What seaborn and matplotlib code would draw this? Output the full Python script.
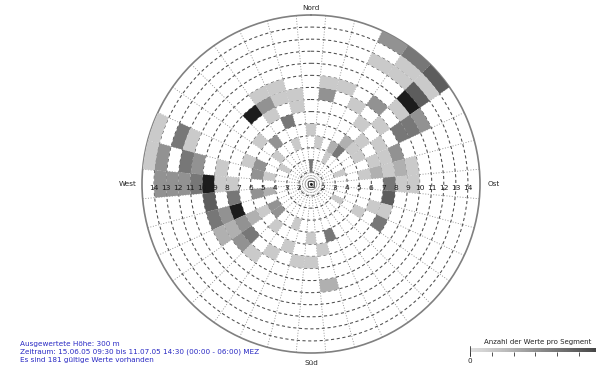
import numpy as np
import matplotlib
matplotlib.use("Agg")
import matplotlib.pyplot as plt
import matplotlib.colors as mcolors
from matplotlib.lines import Line2D
import seaborn as sns

# Wind direction (deg, clockwise from north), speed class (1..14) and number of values per segment
directions = [
    30, 40, 50, 40, 50, 30, 40, 50, 50, 50, 60, 60, 60, 40, 70,
    80, 90, 80, 90, 80, 80, 80, 70, 70, 60, 60, 50, 50, 50, 40, 40, 30,
    10, 20, 10, 30, 40, 0, 10, 0, 30, 70,
    330, 340, 350, 340, 330, 320, 340, 330, 350, 310, 320, 340, 310, 290, 290, 300,
    290, 280, 280, 290, 290, 280, 280, 280, 270, 270, 270, 270, 270, 270, 270, 280, 280,
    260, 250, 250, 240, 240, 230, 220, 250, 260, 240, 230, 240, 240,
    260, 260, 240, 230, 220, 200, 210, 190, 180, 200,
    180, 160, 170, 170,
    90, 100, 110, 110, 120, 120, 120,
]
speed_class = [
    14, 14, 14, 13, 13, 12, 12, 12, 11, 10, 9, 10, 11, 9, 8,
    9, 9, 8, 8, 7, 6, 5, 6, 7, 5, 7, 8, 6, 5, 4, 5, 4,
    9, 9, 8, 8, 7, 5, 4, 2, 3, 3,
    9, 9, 8, 8, 8, 8, 6, 7, 7, 6, 5, 4, 4, 5, 6, 3,
    14, 14, 13, 12, 11, 11, 10, 8, 9, 10, 11, 12, 13, 8, 7, 5, 4,
    9, 9, 8, 9, 8, 8, 8, 7, 7, 7, 7, 6, 5,
    5, 4, 4, 4, 5, 6, 7, 7, 7, 4,
    5, 5, 6, 9,
    7, 7, 7, 6, 7, 5, 3,
]
counts = [
    3, 4, 5, 1, 1, 1, 1, 5, 7, 1, 4, 4, 3, 3, 3,
    1, 1, 2, 1, 1, 2, 1, 1, 1, 1, 1, 1, 1, 1, 4, 2, 2,
    1, 1, 3, 1, 1, 1, 1, 4, 1, 1,
    1, 1, 1, 1, 3, 7, 4, 1, 1, 1, 3, 1, 1, 3, 1, 1,
    1, 1, 3, 4, 1, 4, 3, 1, 7, 4, 3, 3, 3, 1, 1, 3, 1,
    5, 4, 3, 2, 2, 3, 1, 7, 4, 3, 4, 2, 1,
    3, 2, 3, 3, 1, 1, 1, 1, 1, 1,
    1, 4, 1, 2,
    4, 5, 1, 1, 4, 1, 1,
]
ring_labels = [str(k) for k in range(2, 15)]

info_lines = [
    "Ausgewertete Höhe: 300 m",
    "Zeitraum: 15.06.05 09:30 bis 11.07.05 14:30 (00:00 - 06:00) MEZ",
    "Es sind 181 gültige Werte vorhanden",
]

sns.set_theme(style="white")
plt.rcParams['font.family'] = ['DejaVu Sans']

W, H = 596, 371
fig = plt.figure(figsize=(W / 100, H / 100), dpi=100)
fig.patch.set_facecolor("white")

cx, cy, rad = 311, 184, 169
ax = fig.add_axes([(cx - rad) / W, (H - cy - rad) / H, 2 * rad / W, 2 * rad / H],
                  projection="polar")
ax.set_theta_zero_location("N")
ax.set_theta_direction(-1)
ax.set_ylim(0, 14)

# grey scale for the number of values per segment
base = sns.color_palette("Greys", as_cmap=True)
cmap = mcolors.LinearSegmentedColormap.from_list(
    "greys_cut", base(np.linspace(0.22, 1.0, 256)))
norm = mcolors.Normalize(0, 8)

theta = np.deg2rad(directions)
bottoms = np.array(speed_class) - 1
ax.bar(theta, np.ones(len(theta)), width=np.deg2rad(10), bottom=bottoms,
       color=cmap(norm(np.array(counts))), edgecolor="none", align="center",
       zorder=3)

# segment grid: dashed rings per speed class, dotted radial lines per 10 deg
ax.set_rticks(np.arange(1, 14))
ax.set_yticklabels([])
ax.set_xticks(np.deg2rad(np.arange(5, 360, 10)))
ax.set_xticklabels([])
ax.tick_params(length=0, pad=0)
ax.yaxis.grid(True, color="0.3", linestyle=(0, (3, 2.5)), linewidth=0.75)
ax.xaxis.grid(True, color="0.55", linestyle=(0, (1.2, 2.0)), linewidth=0.6)
ax.set_axisbelow(True)
ax.spines["polar"].set_color("0.5")
ax.spines["polar"].set_linewidth(1.2)

# speed class labels along the east-west axis
for i, lab in enumerate(ring_labels):
    r = i + 1
    for ang in (90, 270):
        ax.annotate(lab, xy=(np.deg2rad(ang), r), xytext=(0, -1.0),
                    textcoords="offset points", ha="center", va="top",
                    fontsize=5.4, color="0.1", zorder=5)

# centre marker
ax.plot([0], [0], marker="s", markersize=4, markerfacecolor="none",
        markeredgecolor="0.3", markeredgewidth=0.6, zorder=5)
ax.plot([0], [0], marker=".", markersize=2, color="0.1", zorder=6)

def px(x, y):
    return x / W, 1 - y / H

fs = 5.2
fig.text(*px(311, 8), "Nord", ha="center", va="center", fontsize=fs, color="0.15")
fig.text(*px(311, 363), "Süd", ha="center", va="center", fontsize=fs, color="0.15")
fig.text(*px(128, 184), "West", ha="center", va="center", fontsize=fs, color="0.15")
fig.text(*px(494, 184), "Ost", ha="center", va="center", fontsize=fs, color="0.15")

for j, line in enumerate(info_lines):
    fig.text(*px(20, 344 + 8 * j), line, ha="left", va="center",
             fontsize=fs, color="#2a2ac4")

# colour scale
cax = fig.add_axes([470 / W, (H - 352) / H, 174 / W, 4 / H])
sm = matplotlib.cm.ScalarMappable(norm=norm, cmap=cmap)
cb = fig.colorbar(sm, cax=cax, orientation="horizontal")
cb.outline.set_visible(False)
cb.set_ticks(np.arange(0, 9))
cb.set_ticklabels(["0"] + [""] * 8)
cax.tick_params(axis="x", length=3, width=0.6, color="0.2", labelsize=fs,
                pad=1.5, labelcolor="0.15")
cax.axhline(0, color="0.2", linewidth=0.6)
fig.add_artist(Line2D([470 / W, 470 / W], [1 - 346 / H, 1 - 356 / H],
                      transform=fig.transFigure, color="0.2", linewidth=0.6))
fig.text(*px(484, 342), "Anzahl der Werte pro Segment", ha="left", va="center",
         fontsize=5.0, color="0.15")

fig.savefig("out.png", dpi=100, facecolor="white")
